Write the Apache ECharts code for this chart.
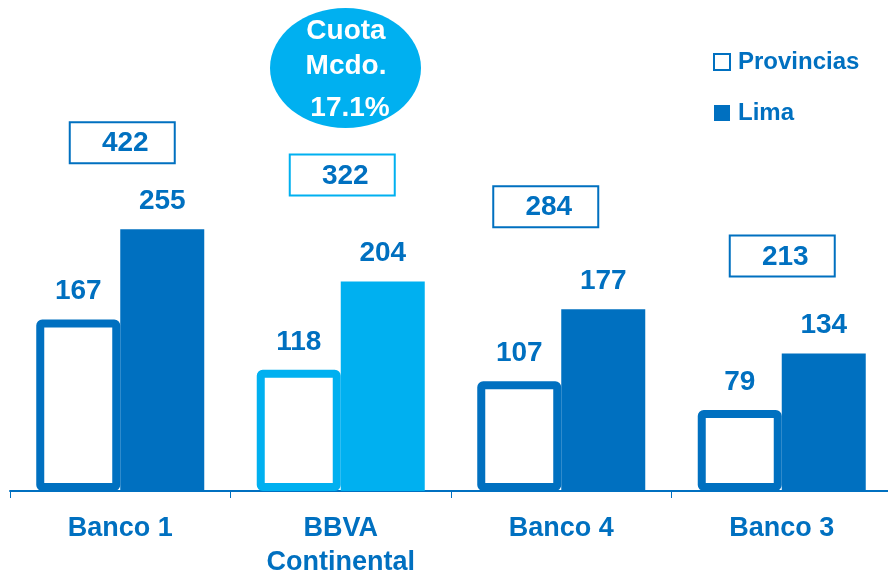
<!DOCTYPE html>
<html>
<head>
<meta charset="utf-8">
<script src="https://cdn.jsdelivr.net/npm/echarts@6/dist/echarts.min.js"></script>
<style>
  html, body { margin: 0; padding: 0; background: #ffffff; overflow: hidden; }
  #chart { width: 888px; height: 571px; }
</style>
</head>
<body>
<div id="chart"></div>
<script>
// ---- Data ----
const categories = ['Banco 1', 'BBVA\nContinental', 'Banco 4', 'Banco 3'];
const seriesNames = ['Provincias', 'Lima'];
const provincias = [167, 118, 107, 79];
const lima = [255, 204, 177, 134];
const totals = [422, 322, 284, 213];
const highlightIndex = 1;
const shareLines = ['Cuota', 'Mcdo.', '17.1%'];

// ---- Style / layout ----
const DARK = '#0070C0';
const LIGHT = '#00B0F0';
const FONT = "'Liberation Sans', Arial, sans-serif";
const boxGap = [66, 86, 82, 77];      // px between box bottom and Lima bar top
const boxShift = [2, 1.5, -15.5, 0.5]; // px horizontal shift of total boxes

const chart = echarts.init(document.getElementById('chart'), null, { renderer: 'canvas', width: 888, height: 571 });

const provData = provincias.map((v, i) => ({
  value: v,
  itemStyle: { color: '#ffffff', borderColor: i === highlightIndex ? LIGHT : DARK, borderWidth: 8 }
}));
const limaData = lima.map((v, i) => ({
  value: v,
  itemStyle: { color: i === highlightIndex ? LIGHT : DARK }
}));
const totalData = totals.map((t, i) => [i, lima[i], t]);

const valueLabel = {
  show: true, position: 'top', distance: 14,
  color: DARK, fontFamily: FONT, fontWeight: 'bold', fontSize: 28
};

const option = {
  animation: false,
  backgroundColor: '#ffffff',
  grid: { left: 10, top: 29, width: 882, height: 462, containLabel: false, outerBoundsMode: 'none' },
  legend: {
    orient: 'vertical', left: 708, top: 45, itemGap: 27,
    itemWidth: 16, itemHeight: 16, selectedMode: false,
    textStyle: { color: DARK, fontFamily: FONT, fontWeight: 'bold', fontSize: 24, padding: [0, 0, 0, 3] },
    data: [
      { name: seriesNames[0], icon: 'rect', itemStyle: { color: '#ffffff', borderColor: DARK, borderWidth: 2 } },
      { name: seriesNames[1], icon: 'rect', itemStyle: { color: DARK, borderWidth: 0 } }
    ]
  },
  xAxis: {
    type: 'category', data: categories,
    axisLine: { show: true, lineStyle: { color: DARK, width: 2 } },
    axisTick: { show: true, length: 7, lineStyle: { color: DARK, width: 1 } },
    axisLabel: {
      color: DARK, fontFamily: FONT, fontWeight: 'bold', fontSize: 27,
      lineHeight: 34, margin: 21, interval: 0
    }
  },
  yAxis: {
    type: 'value', min: 0, max: 450,
    show: false, splitLine: { show: false }
  },
  series: [
    {
      name: seriesNames[0], type: 'bar', data: provData,
      barWidth: 84, barGap: '0%',
      itemStyle: { color: '#ffffff', borderColor: DARK, borderWidth: 8, borderRadius: 2 },
      label: valueLabel
    },
    {
      name: seriesNames[1], type: 'bar', data: limaData,
      barWidth: 84, barGap: '0%',
      itemStyle: { color: DARK },
      label: valueLabel
    },
    {
      name: 'Total', type: 'custom', data: totalData,
      encode: { x: 0, y: 1 }, clip: false, z: 5,
      renderItem: function (params, api) {
        const i = params.dataIndex;
        const p = api.coord([api.value(0), api.value(1)]);
        const w = 105, h = 41;
        const cx = p[0] + boxShift[i];
        const bottom = p[1] - boxGap[i];
        return {
          type: 'group',
          children: [
            {
              type: 'rect',
              shape: { x: cx - w / 2, y: bottom - h, width: w, height: h },
              style: { fill: '#ffffff', stroke: i === highlightIndex ? LIGHT : DARK, lineWidth: 2 }
            },
            {
              type: 'text',
              style: {
                x: cx + 3, y: bottom - h / 2 + 1, text: String(api.value(2)),
                fill: DARK, font: 'bold 28px ' + FONT,
                textAlign: 'center', textVerticalAlign: 'middle'
              }
            }
          ]
        };
      }
    }
  ],
  graphic: [
    {
      type: 'ellipse', shape: { cx: 345.5, cy: 68, rx: 75.5, ry: 60 },
      style: { fill: LIGHT }, z: 10
    },
    { type: 'text', x: 346, y: 31, z: 11,
      style: { text: shareLines[0], fill: '#ffffff', font: 'bold 28px ' + FONT, textAlign: 'center', textVerticalAlign: 'middle' } },
    { type: 'text', x: 346, y: 66, z: 11,
      style: { text: shareLines[1], fill: '#ffffff', font: 'bold 28px ' + FONT, textAlign: 'center', textVerticalAlign: 'middle' } },
    { type: 'text', x: 350, y: 108, z: 11,
      style: { text: shareLines[2], fill: '#ffffff', font: 'bold 28px ' + FONT, textAlign: 'center', textVerticalAlign: 'middle' } }
  ]
};

chart.setOption(option);
</script>
</body>
</html>
